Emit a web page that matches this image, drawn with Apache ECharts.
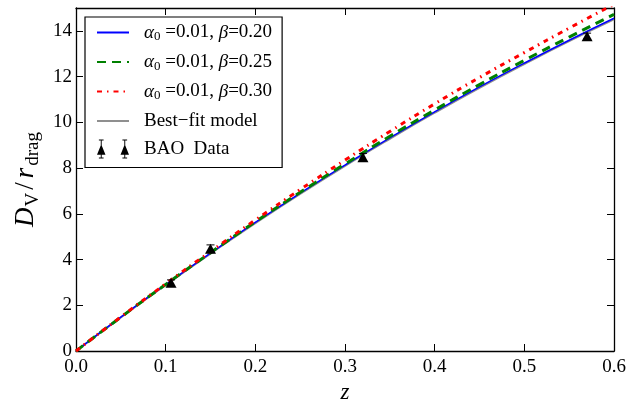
<!DOCTYPE html>
<html>
<head>
<meta charset="utf-8">
<script src="https://cdn.jsdelivr.net/npm/echarts@6/dist/echarts.min.js"></script>
<style>
html,body{margin:0;padding:0;background:#fff;}
#c{width:631px;height:402px;}
</style>
</head>
<body>
<div id="c"></div>
<script>
// ---- data ----
const zGrid   = [0, 0.05, 0.10, 0.15, 0.20, 0.25, 0.30, 0.35, 0.40, 0.45, 0.50, 0.55, 0.60];
const beta20  = [0, 1.48, 2.90, 4.28, 5.62, 6.90, 8.13, 9.32, 10.46, 11.55, 12.59, 13.59, 14.55];
const beta25  = [0, 1.48, 2.91, 4.30, 5.65, 6.94, 8.18, 9.39, 10.54, 11.65, 12.71, 13.73, 14.72];
const beta30  = [0, 1.49, 2.94, 4.35, 5.73, 7.06, 8.35, 9.60, 10.81, 11.96, 13.05, 14.12, 15.16];
const bestFit = [0, 1.47, 2.89, 4.26, 5.59, 6.87, 8.10, 9.28, 10.42, 11.51, 12.55, 13.55, 14.50];
const baoZ    = [0.106, 0.15, 0.32, 0.57];
const baoVal  = [2.98, 4.47, 8.47, 13.77];
const baoErr  = [0.13, 0.17, 0.17, 0.13];
const xTicks  = [0, 0.1, 0.2, 0.3, 0.4, 0.5, 0.6];
const yTicks  = [0, 2, 4, 6, 8, 10, 12, 14];

const pair = (xs, ys) => xs.map((x, i) => [x, ys[i]]);
const FONT = '"Liberation Serif", "DejaVu Serif", serif';

const legendText = {
  'b20': '{gr|α}{sub|0}{t| =0.01, }{gr|β}{t|=0.20}',
  'b25': '{gr|α}{sub|0}{t| =0.01, }{gr|β}{t|=0.25}',
  'b30': '{gr|α}{sub|0}{t| =0.01, }{gr|β}{t|=0.30}',
  'best': '{t|Best−fit model}',
  'bao': '{t|BAO  Data}'
};

const baoIcon = 'path://M0,16L4.5,5L9,16Z M4,0L5,0L5,20L4,20Z M2,0L7,0L7,1L2,1Z M2,19L7,19L7,20L2,20Z ' +
  'M25,16L29.5,5L34,16Z M29,0L30,0L30,20L29,20Z M27,0L32,0L32,1L27,1Z M27,19L32,19L32,20L27,20Z';

const axisCommon = {
  axisLine: {show: true, onZero: false, lineStyle: {color: '#000', width: 1.3}},
  splitLine: {show: false},
  axisTick: {show: true, inside: true, length: 7, lineStyle: {color: '#000', width: 1}}
};
const hideSym = {opacity: 0};

const chart = echarts.init(document.getElementById('c'), null, {renderer: 'canvas'});
chart.setOption({
  animation: false,
  backgroundColor: '#fff',
  grid: {left: 76, right: 17, top: 8, bottom: 51, outerBoundsMode: 'none', containLabel: false},
  legend: {
    orient: 'vertical',
    left: 85, top: 17,
    padding: [6, 10, 9, 11],
    itemGap: 9,
    itemWidth: 32,
    itemHeight: 20,
    borderColor: '#000', borderWidth: 1.2,
    backgroundColor: '#fff',
    selectedMode: false,
    formatter: n => legendText[n],
    textStyle: {
      fontFamily: FONT, fontSize: 19, color: '#000', padding: [0, 0, 0, 10],
      rich: {
        t: {fontFamily: FONT, fontSize: 19, color: '#000'},
        gr: {fontFamily: FONT, fontSize: 19, fontStyle: 'italic', color: '#000'},
        sub: {fontFamily: FONT, fontSize: 13, color: '#000', padding: [9, 0, 0, 0]}
      }
    },
    data: [
      {name: 'b20', itemStyle: hideSym}, {name: 'b25', itemStyle: hideSym},
      {name: 'b30', itemStyle: hideSym}, {name: 'best', itemStyle: hideSym},
      {name: 'bao', icon: baoIcon, itemStyle: {color: '#000', opacity: 1}}
    ]
  },
  xAxis: [{
    type: 'value', min: 0, max: 0.6, interval: 0.1, position: 'bottom',
    name: 'z', nameLocation: 'middle', nameGap: 30,
    nameTextStyle: {fontFamily: FONT, fontSize: 23, fontStyle: 'italic', color: '#000'},
    ...axisCommon,
    axisTick: {...axisCommon.axisTick, customValues: xTicks},
    axisLabel: {customValues: xTicks, formatter: v => v.toFixed(1), margin: 7,
      fontFamily: FONT, fontSize: 19, color: '#000'}
  }, {
    type: 'value', min: 0, max: 0.6, interval: 0.1, position: 'top',
    ...axisCommon,
    axisTick: {...axisCommon.axisTick, customValues: xTicks},
    axisLabel: {show: false}
  }],
  yAxis: [{
    type: 'value', min: 0, max: 15, interval: 1, position: 'left',
    name: '{it|D}{sv|V}{n|/}{it|r}{sd|drag}', nameLocation: 'middle', nameGap: 23, nameRotate: 90,
    nameTextStyle: {
      fontFamily: FONT, fontSize: 27, color: '#000',
      rich: {
        it: {fontFamily: FONT, fontSize: 27, fontStyle: 'italic', color: '#000'},
        n: {fontFamily: FONT, fontSize: 27, color: '#000', padding: [0, 4, 0, 2]},
        sv: {fontFamily: FONT, fontSize: 19, color: '#000', padding: [13, 1, 0, 1]},
        sd: {fontFamily: FONT, fontSize: 19, color: '#000', padding: [13, 0, 0, 2]}
      }
    },
    ...axisCommon,
    axisTick: {...axisCommon.axisTick, customValues: yTicks},
    axisLabel: {customValues: yTicks, margin: 4, fontFamily: FONT, fontSize: 19, color: '#000'}
  }, {
    type: 'value', min: 0, max: 15, interval: 1, position: 'right',
    ...axisCommon,
    axisTick: {...axisCommon.axisTick, customValues: yTicks},
    axisLabel: {show: false}
  }],
  series: [
    {name: 'best', type: 'line', data: pair(zGrid, bestFit), symbol: 'none', smooth: true, z: 2,
      lineStyle: {color: '#8f8f8f', width: 2}, itemStyle: {color: '#8f8f8f'}},
    {name: 'b20', type: 'line', data: pair(zGrid, beta20), symbol: 'none', smooth: true, z: 3,
      lineStyle: {color: '#0000ff', width: 1.5}, itemStyle: {color: '#0000ff'}},
    {name: 'b25', type: 'line', data: pair(zGrid, beta25), symbol: 'none', smooth: true, z: 4,
      lineStyle: {color: '#008000', width: 3, type: [9, 6]}, itemStyle: {color: '#008000'}},
    {name: 'b30', type: 'line', data: pair(zGrid, beta30), symbol: 'none', smooth: true, z: 5,
      lineStyle: {color: '#ff0000', width: 3, type: [5, 5, 1.5, 5]}, itemStyle: {color: '#ff0000'}},
    {name: 'baoErr', type: 'custom', z: 6,
      data: baoZ.map((z, i) => [z, baoVal[i] - baoErr[i], baoVal[i] + baoErr[i]]),
      encode: {x: 0, y: [1, 2]},
      renderItem: (params, api) => {
        const lo = api.coord([api.value(0), api.value(1)]);
        const hi = api.coord([api.value(0), api.value(2)]);
        const w = 4;
        const st = {stroke: '#000', lineWidth: 1};
        return {type: 'group', children: [
          {type: 'line', shape: {x1: lo[0], y1: lo[1], x2: hi[0], y2: hi[1]}, style: st},
          {type: 'line', shape: {x1: lo[0] - w, y1: lo[1], x2: lo[0] + w, y2: lo[1]}, style: st},
          {type: 'line', shape: {x1: hi[0] - w, y1: hi[1], x2: hi[0] + w, y2: hi[1]}, style: st}
        ]};
      }},
    {name: 'bao', type: 'scatter', data: pair(baoZ, baoVal), symbol: 'triangle', symbolSize: [11, 10], z: 7,
      itemStyle: {color: '#000', opacity: 1}}
  ]
});
</script>
</body>
</html>
